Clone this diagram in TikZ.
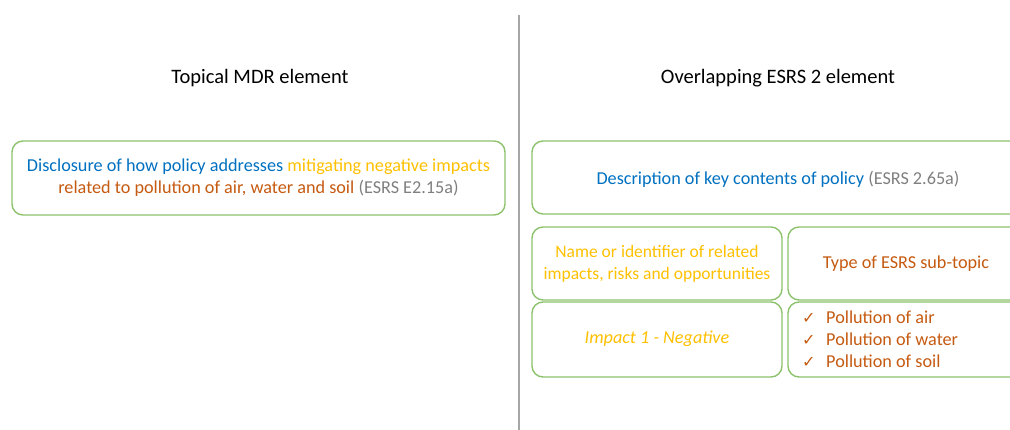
\documentclass[tikz,border=0pt]{standalone}
\usepackage{fontspec}
\setmainfont{Carlito}
\newfontfamily\symfont{DejaVu Sans}
\newcommand{\mychk}{\makebox[24pt][l]{\symfont\fontsize{16}{22}\selectfont ✓}}
\definecolor{cblue}{HTML}{0070C0}
\definecolor{cyel}{HTML}{FFC000}
\definecolor{corg}{HTML}{C55A11}
\definecolor{cgray}{HTML}{7F7F7F}
\definecolor{cgreen}{HTML}{8CC26C}
\definecolor{cline}{HTML}{A6A6A6}
\begin{document}
\begin{tikzpicture}[x=1pt,y=-1pt,
  box/.style={draw=cgreen,line width=1.4pt,rounded corners=11pt},
  txt/.style={font=\fontsize{18.2}{22}\selectfont,align=center,inner sep=0pt},
  title/.style={font=\fontsize{20.5}{24}\selectfont,inner sep=0pt}]
\useasboundingbox (0,0) rectangle (1010,430);
\clip (0,0) rectangle (1010,430);
\draw[cline,line width=1.2pt] (519,15) coordinate (ltop) -- (519,430) coordinate (lbot);
\node[title] (t1) at (260,78) {Topical MDR element};
\node[title] (t2) at (778,78) {Overlapping ESRS 2 element};
\draw[box] (12,141) rectangle (505,215);
\node[txt] (l1) at (258.5,178) {\textcolor{cblue}{Disclosure of how policy addresses} \textcolor{cyel}{mitigating negative impacts}\\
\textcolor{corg}{related to pollution of air, water and soil} \textcolor{cgray}{(ESRS E2.15a)}};
\draw[box] (532,141) rectangle (1025,214);
\node[txt] (r1) at (778,179) {\textcolor{cblue}{Description of key contents of policy} \textcolor{cgray}{(ESRS 2.65a)}};
\draw[box] (532,227) rectangle (782,300);
\node[txt,text=cyel,font=\fontsize{17.5}{22}\selectfont] (r2) at (657,264) {Name or identifier of related\\impacts, risks and opportunities};
\draw[box] (788,227) rectangle (1025,300);
\node[txt,text=corg] (r3) at (906,264) {Type of ESRS sub-topic};
\draw[box] (532,302) rectangle (782,377);
\node[txt,text=cyel] (r4) at (657,339) {\itshape Impact 1 - Negative};
\draw[box] (788,302) rectangle (1025,377);
\node[txt,text=corg,align=left,anchor=west] (r5) at (802,339) {\mychk Pollution of air\\\mychk Pollution of water\\\mychk Pollution of soil};
\end{tikzpicture}
\end{document}
